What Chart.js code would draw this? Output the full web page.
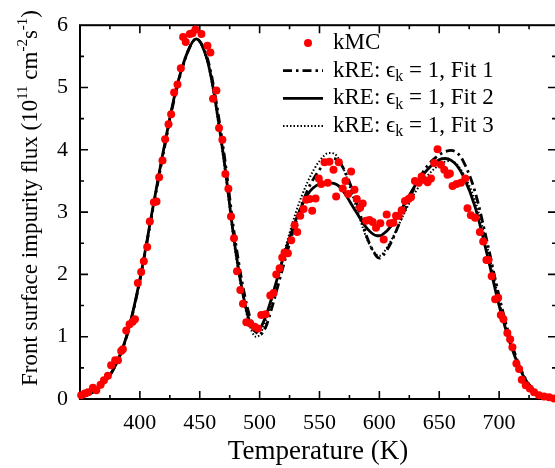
<!DOCTYPE html>
<html>
<head>
<meta charset="utf-8">
<script src="https://cdn.jsdelivr.net/npm/chart.js@4.4.1/dist/chart.umd.min.js"></script>
<style>
  html, body { margin: 0; padding: 0; background: #fff; overflow: hidden; }
  #wrap { width: 555px; height: 468px; overflow: hidden; }
  canvas { display: block; }
</style>
</head>
<body>
<div id="wrap"><canvas id="flux" width="560" height="468"></canvas></div>
<script>
// kMC simulation points (temperature K, flux 1e11 cm^-2 s^-1)
const kmcTemp = [
  351, 354, 356.7, 360.8, 363.6, 367.2, 370, 373.3, 376, 379.4, 381.7, 384.4, 385.8, 388.6,
  391.4, 394, 395.9, 398.3, 401.1, 403.3, 406.1, 408.3, 411.7, 413.9, 416.1, 418.9, 421.1,
  423.9, 426.1, 428.6, 431.4, 434.2, 436.1, 438.3, 441.7, 443.9, 446.4, 451.4, 456.4, 458.9,
  461.1, 463.9, 466.1, 468.9, 471.4, 473.9, 476.1, 478.6, 481.1, 483.9, 486.1, 488.9, 492.2,
  495.8, 498.6, 501.4, 505, 508.9, 511.7, 513.9, 516.7, 518.9, 520.8, 523.6, 526.4, 529.2,
  531.4, 533.9, 536.7, 538.9, 541.7, 543.9, 546.7, 549.4, 551.4, 554.2, 556.9, 558.3, 561.7,
  563.9, 566.1, 569.4, 571.7, 573.9, 576.4, 579.2, 581.1, 583.9, 586.1, 588.9, 591.7, 594.4,
  597.2, 600.8, 603.6, 606.1, 608.9, 611.7, 613.9, 616.1, 618.6, 621.4, 624.4, 626.4, 629.7,
  632.8, 635.3, 636.7, 640.3, 643.1, 645.8, 648.6, 651.4, 654.2, 656.9, 658.9, 661.1, 664.4,
  668.1, 671.7, 673.6, 676.4, 680, 683.9, 686.7, 689.4, 691.1, 693.8, 696.7, 699.2, 701.4,
  703.6, 706.9, 709.2, 711.1, 714.4, 716.7, 718.9, 722.2, 725.6, 729.2, 733.3, 737.5, 741.7,
  745.8
];
const kmcFlux = [
  0.06, 0.09, 0.11, 0.18, 0.14, 0.23, 0.30, 0.375, 0.54, 0.62, 0.62, 0.77, 0.80, 1.10,
  1.20, 1.24, 1.28, 1.86, 2.04, 2.21, 2.44, 2.85, 3.16, 3.17, 3.56, 3.83, 4.17,
  4.41, 4.57, 4.92, 5.05, 5.31, 5.81, 5.73, 5.86, 5.87, 5.93, 5.86, 5.67, 5.56,
  4.82, 4.95, 4.35, 4.16, 3.61, 3.375, 2.93, 2.58, 2.05, 1.75, 1.53, 1.23, 1.21,
  1.16, 1.13, 1.35, 1.36, 1.66, 1.70, 2.00, 2.10, 2.27, 2.35, 2.34, 2.55, 2.79,
  2.68, 2.94, 3.05, 3.20, 3.21, 3.02, 3.22, 3.54, 3.45, 3.80, 3.47, 3.81, 3.68,
  3.25, 3.80, 3.38, 3.50, 3.29, 3.65, 3.36, 3.21, 3.07, 3.14, 2.86, 2.875, 2.84,
  2.75, 2.82, 2.56, 2.96, 2.82, 2.83, 2.94, 2.94, 3.03, 3.18, 3.21, 3.24, 3.50,
  3.47, 3.57, 3.52, 3.48, 3.54, 3.79, 4.01, 3.76, 3.68, 3.60, 3.62, 3.42, 3.45,
  3.47, 3.54, 3.06, 2.95, 2.91, 2.68, 2.53, 2.23, 2.23, 1.97, 1.60, 1.625, 1.35,
  1.28, 1.06, 0.96, 0.83, 0.57, 0.48, 0.31, 0.22, 0.17, 0.11, 0.06, 0.04, 0.03,
  0.01
];

// kRE fits, read at these temperatures
const fitTemp = [
  350, 360, 370, 380, 390, 400, 410, 420, 430, 440, 447, 455, 460, 470, 480, 490, 497, 500,
  505, 510, 520, 530, 540, 550, 558, 562, 566, 570, 580, 590, 598, 600, 602, 610, 620, 630,
  640, 650, 655, 660, 665, 670, 680, 690, 700, 710, 720, 730, 740, 747.5
];
const fit1 = [
  0.02, 0.10, 0.26, 0.55, 1.07, 1.90, 2.95, 3.98, 4.92, 5.57, 5.78, 5.55, 5.18, 3.98, 2.50, 1.45, 1.08, 1.03,
  1.15, 1.45, 2.15, 2.82, 3.35, 3.68, 3.84, 3.86, 3.82, 3.70, 3.22, 2.58, 2.28, 2.26, 2.28, 2.52, 2.98, 3.42,
  3.74, 3.92, 3.97, 3.99, 3.95, 3.82, 3.32, 2.52, 1.65, 0.92, 0.40, 0.12, 0.03, 0.01
];
const fit2 = [
  0.02, 0.10, 0.26, 0.55, 1.08, 1.92, 2.98, 4.02, 4.95, 5.58, 5.78, 5.52, 5.12, 3.88, 2.38, 1.35, 1.08, 1.12,
  1.32, 1.62, 2.28, 2.86, 3.28, 3.45, 3.47, 3.46, 3.42, 3.33, 3.02, 2.73, 2.62, 2.62, 2.63, 2.78, 3.10, 3.43,
  3.68, 3.84, 3.86, 3.83, 3.74, 3.58, 3.08, 2.32, 1.50, 0.85, 0.38, 0.12, 0.03, 0.01
];
const fit3 = [
  0.02, 0.10, 0.26, 0.56, 1.09, 1.93, 2.98, 4.02, 4.95, 5.58, 5.78, 5.50, 5.08, 3.82, 2.32, 1.30, 1.00, 1.03,
  1.25, 1.58, 2.32, 2.98, 3.48, 3.82, 3.95, 3.94, 3.86, 3.70, 3.12, 2.55, 2.31, 2.30, 2.32, 2.55, 2.95, 3.32,
  3.58, 3.76, 3.81, 3.82, 3.76, 3.62, 3.18, 2.45, 1.58, 0.88, 0.38, 0.11, 0.03, 0.01
];

const xTicks = [400, 450, 500, 550, 600, 650, 700];
const yTicks = [0, 1, 2, 3, 4, 5, 6];

const SERIF = '"Liberation Serif", "Times New Roman", serif';
const dashDot = [9, 4, 2.5, 4];
const dotted = [1.5, 2];

const pairs = (xs, ys) => xs.map((x, i) => ({ x: x, y: ys[i] }));

const legendRows = [
  { label: 'kMC', kind: 'point' },
  { label: 'Fit 1', kind: 'line', dash: dashDot, width: 2.8 },
  { label: 'Fit 2', kind: 'line', dash: [], width: 2.8 },
  { label: 'Fit 3', kind: 'line', dash: dotted, width: 2 }
];

// draws the boxed frame with inward ticks, y title and the legend
const decor = {
  id: 'decor',
  beforeDatasetsDraw(chart) {
    const { ctx, chartArea: a, scales: { x, y } } = chart;
    ctx.save();
    ctx.strokeStyle = '#000';
    ctx.lineWidth = 2;
    ctx.strokeRect(a.left, a.top, a.right - a.left, a.bottom - a.top);

    ctx.lineWidth = 1.6;
    ctx.beginPath();
    for (let t = 375; t < 750; t += 25) {
      const px = x.getPixelForValue(t);
      const len = t % 50 === 0 ? 8 : 4;
      ctx.moveTo(px, a.bottom); ctx.lineTo(px, a.bottom - len);
      ctx.moveTo(px, a.top); ctx.lineTo(px, a.top + len);
    }
    for (let v = 0.5; v < 6; v += 0.5) {
      const py = y.getPixelForValue(v);
      const len = v % 1 === 0 ? 8 : 4;
      ctx.moveTo(a.left, py); ctx.lineTo(a.left + len, py);
      ctx.moveTo(a.right, py); ctx.lineTo(a.right - len, py);
    }
    ctx.stroke();
    ctx.restore();
  },
  afterDraw(chart) {
    const { ctx } = chart;
    ctx.save();
    ctx.fillStyle = '#000';

    // y axis title with superscripts
    const base = '23px ' + SERIF;
    const sup = '15px ' + SERIF;
    const parts = [
      ['Front surface impurity flux (10', base, 0],
      ['11', sup, -8],
      [' cm', base, 0],
      ['-2', sup, -8],
      ['s', base, 0],
      ['-1', sup, -8],
      [')', base, 0]
    ];
    let total = 0;
    parts.forEach(p => { ctx.font = p[1]; total += ctx.measureText(p[0]).width; });
    ctx.translate(31, 198);
    ctx.rotate(-Math.PI / 2);
    ctx.textBaseline = 'middle';
    let cx = -total / 2;
    parts.forEach(p => {
      ctx.font = p[1];
      ctx.fillText(p[0], cx, p[2]);
      cx += ctx.measureText(p[0]).width;
    });
    ctx.restore();

    // legend
    ctx.save();
    ctx.textBaseline = 'middle';
    legendRows.forEach((row, i) => {
      const ry = 43 + i * 27.7;
      if (row.kind === 'point') {
        ctx.fillStyle = 'rgb(255,0,0)';
        ctx.beginPath();
        ctx.arc(308, ry, 4, 0, Math.PI * 2);
        ctx.fill();
        ctx.fillStyle = '#000';
        ctx.font = '23px ' + SERIF;
        ctx.fillText(row.label, 333, ry);
        return;
      }
      ctx.strokeStyle = '#000';
      ctx.lineWidth = row.width;
      ctx.setLineDash(row.dash);
      ctx.beginPath();
      ctx.moveTo(283, ry); ctx.lineTo(323, ry);
      ctx.stroke();
      ctx.setLineDash([]);

      ctx.fillStyle = '#000';
      let tx = 333;
      ctx.font = '23px ' + SERIF;
      ctx.fillText('kRE: \u03f5', tx, ry);
      tx += ctx.measureText('kRE: \u03f5').width;
      ctx.font = '16px ' + SERIF;
      ctx.fillText('k', tx, ry + 6);
      tx += ctx.measureText('k').width;
      ctx.font = '23px ' + SERIF;
      ctx.fillText(' = 1, ' + row.label, tx, ry);
    });
    ctx.restore();
  }
};

const lineSet = (label, data, dash, width) => ({
  type: 'line',
  label: label,
  data: pairs(fitTemp, data),
  borderColor: '#000',
  borderWidth: width,
  borderDash: dash,
  pointRadius: 0,
  fill: false,
  cubicInterpolationMode: 'monotone'
});

new Chart(document.getElementById('flux'), {
  type: 'scatter',
  data: {
    datasets: [
      {
        label: 'kMC',
        data: pairs(kmcTemp, kmcFlux),
        backgroundColor: 'rgb(255,0,0)',
        borderWidth: 0,
        pointRadius: 4,
        clip: false
      },
      lineSet('kRE: \u03f5k = 1, Fit 1', fit1, dashDot, 2.8),
      lineSet('kRE: \u03f5k = 1, Fit 2', fit2, [], 2.8),
      lineSet('kRE: \u03f5k = 1, Fit 3', fit3, dotted, 2)
    ]
  },
  options: {
    responsive: false,
    animation: false,
    devicePixelRatio: 1,
    layout: { padding: { top: 15, right: 3, left: 0, bottom: 0 } },
    plugins: { legend: { display: false }, tooltip: { enabled: false } },
    scales: {
      x: {
        type: 'linear',
        min: 350,
        max: 747.5,
        grid: { display: false, drawTicks: false },
        border: { display: false },
        afterBuildTicks: s => { s.ticks = xTicks.map(v => ({ value: v })); },
        afterFit: s => { s.height = 69; },
        ticks: { color: '#000', padding: 11, maxRotation: 0, font: { family: SERIF, size: 22 } },
        title: {
          display: true,
          text: 'Temperature (K)',
          color: '#000',
          padding: { top: 0, bottom: 0 },
          font: { family: SERIF, size: 27 }
        }
      },
      y: {
        min: 0,
        max: 6,
        grid: { display: false, drawTicks: false },
        border: { display: false },
        afterBuildTicks: s => { s.ticks = yTicks.map(v => ({ value: v })); },
        afterFit: s => { s.width = 80; },
        ticks: { color: '#000', padding: 12, font: { family: SERIF, size: 22 } }
      }
    }
  },
  plugins: [decor]
});
</script>
</body>
</html>
